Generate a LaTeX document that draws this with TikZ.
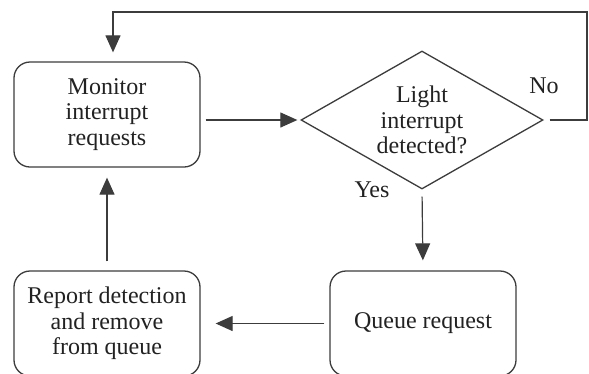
\documentclass[tikz,border=0pt]{standalone}
\usepackage{fontspec}
\setmainfont{Liberation Serif}
\usetikzlibrary{shapes.geometric,arrows.meta}
\definecolor{linegray}{HTML}{3C3C3C}
\definecolor{textgray}{HTML}{222222}

\begin{document}
\begin{tikzpicture}[x=1pt,y=-1pt,
  every node/.style={font=\fontsize{24}{25.5}\selectfont,text=textgray},
  box/.style={draw=linegray,line width=1.3pt,rounded corners=16pt,minimum width=186pt,minimum height=105pt,inner sep=0pt,align=center},
  flow/.style={draw=linegray,line width=1.2pt,-{Triangle[length=17pt,width=15pt]}}]
\path[use as bounding box,fill=white] (0,0) rectangle (589,373);
\clip (0,0) rectangle (589,373);
  \node (monitor) at (107,114.5) [box] {Monitor\\interrupt\\requests};
  \node (decision) at (422,120) [diamond,aspect=1.75,draw=linegray,line width=1.3pt,minimum width=242pt,minimum height=138pt,inner sep=0pt,align=center] {Light\\interrupt\\detected?};
  \node (queue) at (423,323.5) [box] {Queue request};
  \node (report) at (107,323.5) [box] {Report detection\\and remove\\from queue};
  \node (yes) at (372,190) {Yes};
  \node (no) at (544,86) {No};
  \coordinate (corner) at (587,12);
  \coordinate (top) at (113,12);
  \draw [flow,shorten <=5pt,shorten >=3pt] (monitor.east |- decision) to (decision.west);
  \draw [flow,shorten <=7pt,shorten >=10pt] (decision.south) to (queue.north);
  \draw [flow,shorten <=5pt,shorten >=15pt] (queue.west) to (report.east);
  \draw [flow,shorten <=9pt,shorten >=10pt] (report.north) to (monitor.south);
  \draw [flow,shorten <=6pt,shorten >=9pt] (decision.east) -| (corner) -- (top) -- (top |- monitor.north);
\end{tikzpicture}
\end{document}
